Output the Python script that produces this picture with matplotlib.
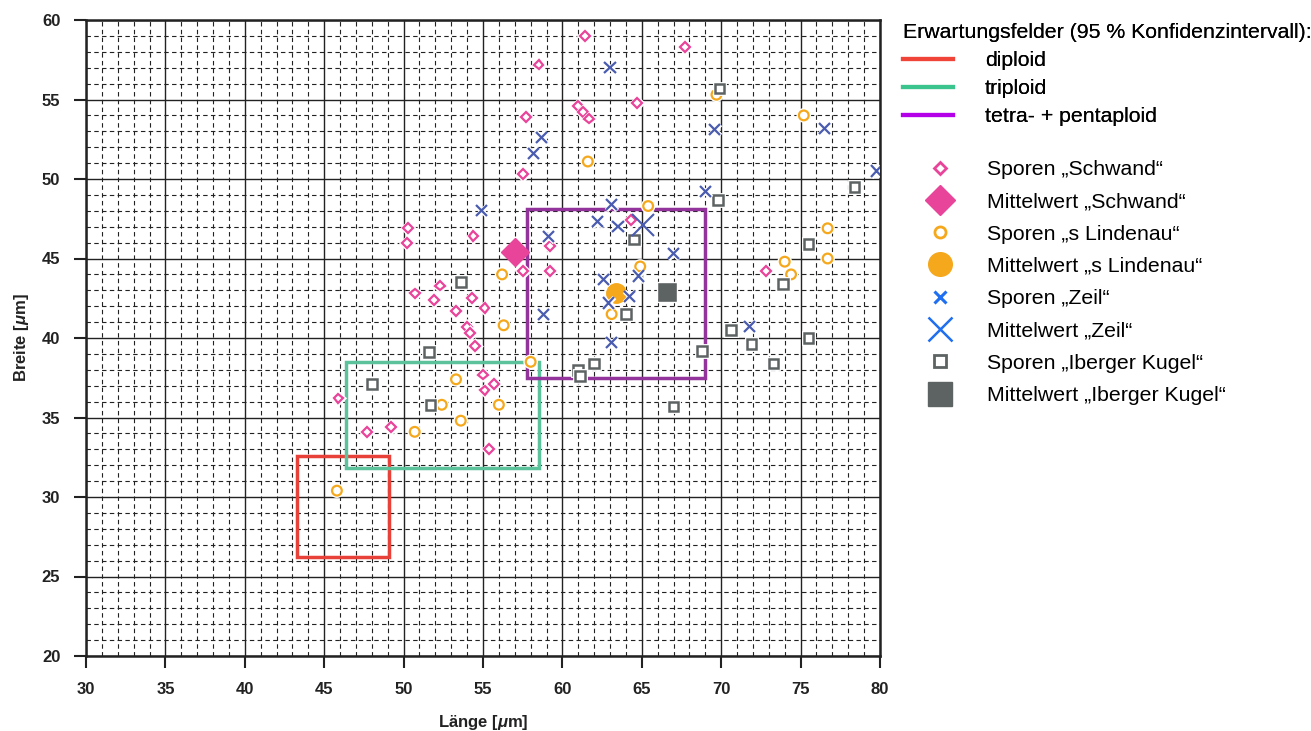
import matplotlib
matplotlib.use("Agg")
import matplotlib.pyplot as plt
import matplotlib.patheffects as pe
from matplotlib.lines import Line2D
from matplotlib.patches import Rectangle
from matplotlib.ticker import MultipleLocator

plt.rcParams['font.family'] = ['Liberation Sans', 'DejaVu Sans']
plt.rcParams['mathtext.fontset'] = 'custom'
plt.rcParams['mathtext.rm'] = 'Liberation Sans:bold'
plt.rcParams['mathtext.it'] = 'Liberation Sans:italic:bold'

# expected fields (95 % CI): x range, y range
box_names = ['diploid', 'triploid', 'tetra- + pentaploid']
box_x = [(43.3, 49.1), (46.4, 58.5), (57.8, 69.0)]
box_y = [(26.2, 32.6), (31.8, 38.5), (37.5, 48.1)]
box_colors = ['#e8413a', '#5cc29c', '#93339c']
box_legend_colors = ['#f04438', '#3cc48e', '#b400e8']

# spores "Schwand"
schwand_x = [61.4, 67.7, 58.5, 61.0, 61.3, 61.7, 64.7, 57.7, 57.5, 50.3, 50.2,
             54.4, 59.2, 57.5, 59.2, 52.3, 50.7, 51.9, 54.3, 53.3, 55.1, 54.0,
             54.2, 54.5, 55.0, 55.7, 55.1, 45.9, 47.7, 49.2, 55.4, 64.3, 72.8]
schwand_y = [59.0, 58.3, 57.2, 54.6, 54.2, 53.8, 54.8, 53.9, 50.3, 46.9, 46.0,
             46.4, 45.8, 44.2, 44.2, 43.3, 42.8, 42.4, 42.5, 41.7, 41.9, 40.7,
             40.3, 39.5, 37.7, 37.1, 36.7, 36.2, 34.1, 34.4, 33.0, 47.4, 44.2]
schwand_mean = (57.0, 45.4)

# spores "s Lindenau"
linden_x = [69.7, 75.2, 61.6, 65.4, 76.7, 76.7, 64.9, 74.0, 74.4, 63.1, 56.2,
            56.3, 58.0, 53.3, 52.4, 56.0, 53.6, 50.7, 45.8]
linden_y = [55.3, 54.0, 51.1, 48.3, 46.9, 45.0, 44.5, 44.8, 44.0, 41.5, 44.0,
            40.8, 38.5, 37.4, 35.8, 35.8, 34.8, 34.1, 30.4]
linden_mean = (63.4, 42.8)

# spores "Zeil"
zeil_x = [63.0, 69.6, 76.5, 58.7, 58.2, 79.8, 69.0, 54.9, 63.1, 62.2, 63.5,
          59.1, 67.0, 62.6, 64.8, 64.2, 62.9, 58.8, 63.1, 71.8]
zeil_y = [57.0, 53.1, 53.2, 52.6, 51.6, 50.5, 49.2, 48.0, 48.4, 47.3, 47.0,
          46.4, 45.3, 43.7, 43.9, 42.6, 42.2, 41.5, 39.7, 40.7]
zeil_mean = (65.1, 47.1)

# spores "Iberger Kugel"
iberg_x = [69.9, 69.8, 78.4, 64.5, 75.5, 73.9, 53.6, 64.0, 70.6, 75.5, 71.9,
           68.8, 62.0, 61.0, 61.1, 73.3, 67.0, 51.6, 48.0, 51.7]
iberg_y = [55.7, 48.7, 49.5, 46.2, 45.9, 43.4, 43.5, 41.5, 40.5, 40.0, 39.6,
           39.2, 38.4, 38.0, 37.6, 38.4, 35.7, 39.1, 37.1, 35.8]
iberg_mean = (66.6, 42.9)

pink = '#e8449a'
orange = '#f5a81c'
blue = '#4a5cb0'
gray = '#5d6262'

fig = plt.figure(figsize=(13.11, 7.31), dpi=100)
ax = fig.add_axes([86 / 1311, 1 - 656 / 731, (880 - 86) / 1311, (656 - 20) / 731])

ax.set_xlim(30, 80)
ax.set_ylim(20, 60)
ax.xaxis.set_major_locator(MultipleLocator(5))
ax.yaxis.set_major_locator(MultipleLocator(5))
ax.xaxis.set_minor_locator(MultipleLocator(1))
ax.yaxis.set_minor_locator(MultipleLocator(1))
ax.grid(which='minor', color='#222222', linestyle=(0, (4, 3)), linewidth=0.8)
ax.grid(which='major', color='#222222', linestyle='-', linewidth=1.0)
ax.set_axisbelow(True)
ax.tick_params(which='minor', length=0)
ax.tick_params(which='major', direction='out', length=8.5, width=1.5, color='#222222',
               labelsize=12, pad=10)
for lab in ax.get_xticklabels() + ax.get_yticklabels():
    lab.set_fontweight('bold')
    lab.set_color('#222222')
for side in ['left', 'bottom', 'top', 'right']:
    ax.spines[side].set_color('#222222')
    ax.spines[side].set_linewidth(1.8)

ax.set_xlabel('Länge [$\\mu$m]', fontsize=12, fontweight='bold', labelpad=12, color='#222222')
ax.set_ylabel('Breite [$\\mu$m]', fontsize=12, fontweight='bold', labelpad=8, color='#222222')

for (x0, x1), (y0, y1), c in zip(box_x, box_y, box_colors):
    ax.add_patch(Rectangle((x0, y0), x1 - x0, y1 - y0, fill=False, edgecolor=c,
                           linewidth=2.5, zorder=3))

halo = [pe.withStroke(linewidth=3.5, foreground='white')]

ax.plot(schwand_x, schwand_y, 'D', ms=5, mfc='white', mec=pink, mew=1.6,
        ls='none', zorder=4, path_effects=halo)
ax.plot(*schwand_mean, 'D', ms=14, color=pink, ls='none', zorder=5)
ax.plot(linden_x, linden_y, 'o', ms=7, mfc='white', mec=orange, mew=1.6,
        ls='none', zorder=4, path_effects=halo)
ax.plot(*linden_mean, 'o', ms=14, color=orange, ls='none', zorder=5)
ax.plot(zeil_x, zeil_y, 'x', ms=8, mec=blue, mew=1.6, ls='none', zorder=6,
        path_effects=halo)
ax.plot(*zeil_mean, 'x', ms=16, mec=blue, mew=1.5, ls='none', zorder=6)
ax.plot(iberg_x, iberg_y, 's', ms=7, mfc='white', mec=gray, mew=1.8,
        ls='none', zorder=4, path_effects=halo)
ax.plot(*iberg_mean, 's', ms=15, color=gray, mec='white', mew=1.0, ls='none', zorder=5)

# legend 1: expected fields
fs = 15.3
line_handles = [Line2D([], [], color=c, lw=3) for c in box_legend_colors]
leg1 = fig.legend(line_handles, box_names, loc='upper left',
                  bbox_to_anchor=(886 / 1311, 1 - 6 / 731),
                  title='Erwartungsfelder (95 % Konfidenzintervall):',
                  title_fontsize=fs, fontsize=fs, frameon=False,
                  handlelength=2.35, handletextpad=1.5, labelspacing=0.43,
                  alignment='left', borderpad=0.3)

# legend 2: spores and means
lg_blue = '#1f6ff0'
marker_handles = [
    Line2D([], [], marker='D', ms=6, mfc='white', mec=pink, mew=2, ls='none'),
    Line2D([], [], marker='D', ms=15, color=pink, ls='none'),
    Line2D([], [], marker='o', ms=8, mfc='white', mec=orange, mew=2, ls='none'),
    Line2D([], [], marker='o', ms=17, color=orange, ls='none'),
    Line2D([], [], marker='x', ms=9, mec=lg_blue, mew=2.2, ls='none'),
    Line2D([], [], marker='x', ms=17, mec=lg_blue, mew=1.8, ls='none'),
    Line2D([], [], marker='s', ms=8, mfc='white', mec=gray, mew=2, ls='none'),
    Line2D([], [], marker='s', ms=17, color=gray, ls='none'),
]
marker_labels = ['Sporen „Schwand“', 'Mittelwert „Schwand“',
                 'Sporen „s Lindenau“', 'Mittelwert „s Lindenau“',
                 'Sporen „Zeil“', 'Mittelwert „Zeil“',
                 'Sporen „Iberger Kugel“', 'Mittelwert „Iberger Kugel“']
leg2 = fig.legend(marker_handles, marker_labels, loc='upper left',
                  bbox_to_anchor=(897 / 1311, 1 - 143 / 731),
                  fontsize=fs, frameon=False, handlelength=2.45,
                  handletextpad=1.0, labelspacing=0.625, borderpad=0.3)
fig.add_artist(leg1)

fig.savefig('out.png', dpi=100)
